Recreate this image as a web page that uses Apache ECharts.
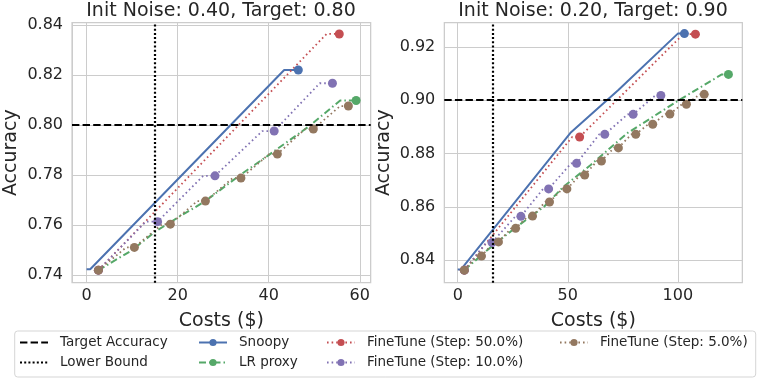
<!DOCTYPE html>
<html>
<head>
<meta charset="utf-8">
<script src="https://cdn.jsdelivr.net/npm/echarts@6/dist/echarts.min.js"></script>
<style>
  html, body { margin: 0; padding: 0; background: #fff; }
  #main { width: 767px; height: 384px; }
</style>
</head>
<body>
<div id="main"></div>
<script>
// ---- left panel: Init Noise 0.40, Target 0.80 ----
const leftTarget = 0.80
const leftLowerBound = 15
const leftSnoopyCost = [0, 0.8, 43.4, 46.5]
const leftSnoopyAcc = [0.7424, 0.7424, 0.822, 0.822]
const leftSnoopyDots = [3]
const leftProxyCost = [2.6, 10, 15, 20, 26, 33.7, 40, 48.7, 55.7, 59.2]
const leftProxyAcc = [0.742, 0.750, 0.7573, 0.763, 0.7695, 0.780, 0.788, 0.7993, 0.8098, 0.8098]
const leftProxyDots = [9]
const leftFt50Cost = [2.6, 52.7, 55.5]
const leftFt50Acc = [0.742, 0.8364, 0.8364]
const leftFt50Dots = [0, 2]
const leftFt10Cost = [2.6, 13, 15.6, 25.6, 28.2, 38.6, 41.2, 51.2, 54]
const leftFt10Acc = [0.742, 0.7614, 0.7614, 0.7797, 0.7797, 0.7976, 0.7976, 0.8167, 0.8167]
const leftFt10Dots = [0, 2, 4, 6, 8]
const leftFt5Cost = [2.6, 8.7, 10.5, 16.6, 18.4, 24.3, 26.1, 32.1, 33.9, 40.1, 41.9, 48, 49.8, 55.7, 57.5]
const leftFt5Acc = [0.742, 0.7511, 0.7511, 0.7604, 0.7604, 0.7696, 0.7696, 0.7788, 0.7788, 0.7884, 0.7884, 0.7984, 0.7984, 0.8076, 0.8076]
const leftFt5Dots = [0, 2, 4, 6, 8, 10, 12, 14]

// ---- right panel: Init Noise 0.20, Target 0.90 ----
const rightTarget = 0.90
const rightLowerBound = 15.9
const rightSnoopyCost = [0, 1.5, 51.5, 73, 100, 103]
const rightSnoopyAcc = [0.8365, 0.8365, 0.888, 0.9038, 0.925, 0.925]
const rightSnoopyDots = [5]
const rightProxyCost = [3, 13.5, 26, 39.2, 48, 60.4, 77, 92, 100.5, 120, 123]
const rightProxyAcc = [0.8362, 0.8438, 0.852, 0.860, 0.8675, 0.8757, 0.8876, 0.8955, 0.900, 0.9097, 0.9097]
const rightProxyDots = [10]
const rightFt50Cost = [3, 52, 55.4, 102.5, 108]
const rightFt50Acc = [0.8362, 0.8862, 0.8862, 0.9248, 0.9248]
const rightFt50Dots = [0, 2, 4]
const rightFt10Cost = [3, 13, 15.6, 26.2, 28.7, 38.8, 41.3, 51.5, 54, 64.3, 66.8, 77.2, 79.7, 89.8, 92.3]
const rightFt10Acc = [0.8362, 0.8466, 0.8466, 0.8564, 0.8564, 0.8667, 0.8667, 0.8763, 0.8763, 0.8872, 0.8872, 0.8947, 0.8947, 0.9018, 0.9018]
const rightFt10Dots = [0, 2, 4, 6, 8, 10, 12, 14]
const rightFt5Cost = [3, 8.8, 10.8, 16.5, 18.5, 24.3, 26.3, 32, 34, 39.7, 41.7, 47.6, 49.6, 55.7, 57.7,
  63.3, 65.3, 71, 73, 78.9, 80.9, 86.6, 88.6, 94.4, 96.4, 101.9, 103.9, 110, 112]
const rightFt5Acc = [0.8362, 0.8415, 0.8415, 0.8468, 0.8468, 0.8519, 0.8519, 0.8565, 0.8565, 0.8618, 0.8618, 0.8667, 0.8667, 0.8719, 0.8719,
  0.8772, 0.8772, 0.8821, 0.8821, 0.8872, 0.8872, 0.891, 0.891, 0.8948, 0.8948, 0.8985, 0.8985, 0.9022, 0.9022]
const rightFt5Dots = [0, 2, 4, 6, 8, 10, 12, 14, 16, 18, 20, 22, 24, 26, 28]

const titles = ['Init Noise: 0.40, Target: 0.80', 'Init Noise: 0.20, Target: 0.90']

const BLUE = '#4C72B0', GREEN = '#55A868', RED = '#C44E52', PURPLE = '#8172B3', BROWN = '#937860'
const TXT = '#262626'
const FONT = 'DejaVu Sans'

function onStep (v, step) {
  return Math.abs(v / step - Math.round(v / step)) < 1e-6
}

function curve (name, cost, acc, dots, gi, color, dash, width) {
  return {
    name: name,
    type: 'line',
    xAxisIndex: gi,
    yAxisIndex: gi,
    color: color,
    symbol: 'circle',
    symbolSize: 9,
    showSymbol: true,
    silent: true,
    animation: false,
    lineStyle: { color: color, width: width, type: dash },
    itemStyle: { color: color },
    data: cost.map((c, i) => ({
      value: [c, acc[i]],
      symbol: dots.indexOf(i) >= 0 ? 'circle' : 'none'
    }))
  }
}

function refLines (gi, target, lower) {
  return [{
    name: 'Target Accuracy', type: 'line', xAxisIndex: gi, yAxisIndex: gi,
    data: [], symbol: 'none', z: 10, color: '#000',
    lineStyle: { color: '#000', width: 2, type: [7.4, 3.2] },
    markLine: {
      silent: true, symbol: 'none', label: { show: false }, animation: false,
      lineStyle: { color: '#000', width: 2, type: [7.4, 3.2] },
      data: [{ yAxis: target }]
    }
  }, {
    name: 'Lower Bound', type: 'line', xAxisIndex: gi, yAxisIndex: gi,
    data: [], symbol: 'none', z: 10, color: '#000',
    lineStyle: { color: '#000', width: 2.2, type: [2, 2.2] },
    markLine: {
      silent: true, symbol: 'none', label: { show: false }, animation: false,
      lineStyle: { color: '#000', width: 2.2, type: [2, 2.2] },
      data: [{ xAxis: lower }]
    }
  }]
}

function xAxisFor (gi, min, max, step) {
  return {
    type: 'value', gridIndex: gi, min: min, max: max, splitNumber: 3,
    name: 'Costs ($)', nameLocation: 'middle', nameGap: 29,
    nameTextStyle: { fontSize: 19, color: TXT, fontFamily: FONT },
    axisLine: { show: false }, axisTick: { show: false },
    axisLabel: {
      fontSize: 16, color: TXT, fontFamily: FONT, margin: 5,
      formatter: v => onStep(v, step) ? String(Math.round(v)) : ''
    },
    splitLine: { show: true, lineStyle: { color: '#cccccc', width: 1 } }
  }
}

function yAxisFor (gi, min, max) {
  return {
    type: 'value', gridIndex: gi, min: min, max: max, splitNumber: 5,
    name: 'Accuracy', nameLocation: 'middle', nameGap: 51,
    nameTextStyle: { fontSize: 19, color: TXT, fontFamily: FONT },
    axisLine: { show: false }, axisTick: { show: false },
    axisLabel: {
      fontSize: 16, color: TXT, fontFamily: FONT, margin: 9,
      formatter: v => onStep(v, 0.02) ? v.toFixed(2) : ''
    },
    splitLine: { show: true, lineStyle: { color: '#cccccc', width: 1 } }
  }
}

// reference lines have no marker in the legend
const noDot = { color: 'rgba(0,0,0,0)', borderWidth: 0, opacity: 0 }

function legendCol (left, names) {
  return {
    orient: 'vertical', left: left, top: 335.5, padding: 0,
    itemWidth: 28, itemHeight: 9, itemGap: 6,
    selectedMode: false,
    textStyle: { fontSize: 13.5, color: TXT, fontFamily: FONT, padding: [0, 0, 0, 7] },
    data: names
  }
}

let chart = echarts.init(document.getElementById('main'), null, { renderer: 'canvas' })

let series = []
series = series.concat(refLines(0, leftTarget, leftLowerBound))
series.push(curve('Snoopy', leftSnoopyCost, leftSnoopyAcc, leftSnoopyDots, 0, BLUE, 'solid', 2))
series.push(curve('LR proxy', leftProxyCost, leftProxyAcc, leftProxyDots, 0, GREEN, [7, 3, 1.5, 3], 2))
series.push(curve('FineTune (Step: 50.0%)', leftFt50Cost, leftFt50Acc, leftFt50Dots, 0, RED, [1.6, 3], 1.8))
series.push(curve('FineTune (Step: 10.0%)', leftFt10Cost, leftFt10Acc, leftFt10Dots, 0, PURPLE, [1.6, 3], 1.8))
series.push(curve('FineTune (Step: 5.0%)', leftFt5Cost, leftFt5Acc, leftFt5Dots, 0, BROWN, [1.6, 3], 1.8))
series = series.concat(refLines(1, rightTarget, rightLowerBound))
series.push(curve('Snoopy', rightSnoopyCost, rightSnoopyAcc, rightSnoopyDots, 1, BLUE, 'solid', 2))
series.push(curve('LR proxy', rightProxyCost, rightProxyAcc, rightProxyDots, 1, GREEN, [7, 3, 1.5, 3], 2))
series.push(curve('FineTune (Step: 50.0%)', rightFt50Cost, rightFt50Acc, rightFt50Dots, 1, RED, [1.6, 3], 1.8))
series.push(curve('FineTune (Step: 10.0%)', rightFt10Cost, rightFt10Acc, rightFt10Dots, 1, PURPLE, [1.6, 3], 1.8))
series.push(curve('FineTune (Step: 5.0%)', rightFt5Cost, rightFt5Acc, rightFt5Dots, 1, BROWN, [1.6, 3], 1.8))

let option = {
  animation: false,
  backgroundColor: '#ffffff',
  textStyle: { fontFamily: FONT },
  title: [
    { text: titles[0], left: 221, top: 2, textAlign: 'center', padding: 0,
      textStyle: { fontSize: 19, fontWeight: 'normal', color: TXT, fontFamily: FONT } },
    { text: titles[1], left: 593, top: 2, textAlign: 'center', padding: 0,
      textStyle: { fontSize: 19, fontWeight: 'normal', color: TXT, fontFamily: FONT } }
  ],
  grid: [
    { left: 72, top: 22.7, width: 298.7, height: 260, show: true, borderColor: '#cccccc', borderWidth: 1.2 },
    { left: 444.3, top: 22.7, width: 298, height: 260, show: true, borderColor: '#cccccc', borderWidth: 1.2 }
  ],
  xAxis: [xAxisFor(0, -3.2, 62.4, 20), xAxisFor(1, -6.1, 129.3, 50)],
  yAxis: [yAxisFor(0, 0.737, 0.8409), yAxisFor(1, 0.8315, 0.9291)],
  legend: [
    legendCol(19, [{ name: 'Target Accuracy', itemStyle: noDot }, { name: 'Lower Bound', itemStyle: noDot }]),
    legendCol(198, ['Snoopy', 'LR proxy']),
    legendCol(326, ['FineTune (Step: 50.0%)', 'FineTune (Step: 10.0%)']),
    legendCol(559, ['FineTune (Step: 5.0%)'])
  ],
  graphic: [{
    type: 'rect', z: -1, silent: true,
    shape: { x: 14.7, y: 331, width: 741, height: 46, r: 3 },
    style: { fill: '#ffffff', stroke: '#d5d5d5', lineWidth: 1 }
  }],
  series: series
}

chart.setOption(option)
</script>
</body>
</html>
